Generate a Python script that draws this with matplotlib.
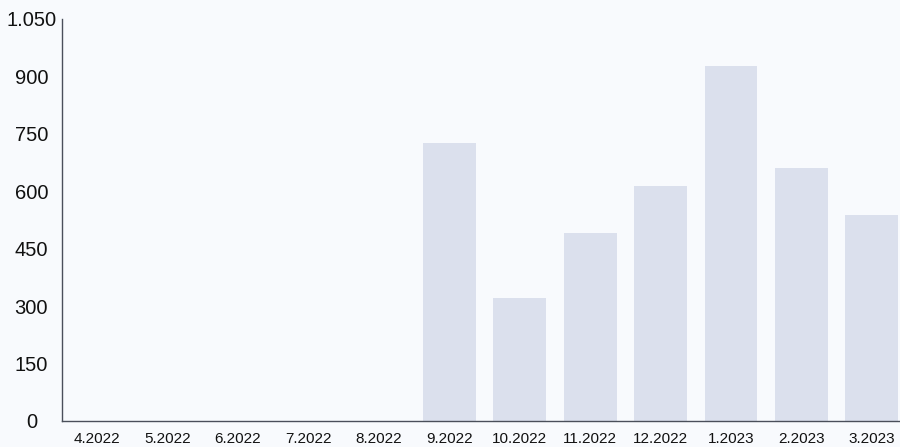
import matplotlib
matplotlib.use("Agg")
from matplotlib import pyplot as plt
from matplotlib.ticker import FuncFormatter
import numpy as np

plt.rcParams['font.family'] = ['Liberation Sans', 'DejaVu Sans']

# monthly values
months = ['4.2022', '5.2022', '6.2022', '7.2022', '8.2022', '9.2022',
          '10.2022', '11.2022', '12.2022', '1.2023', '2.2023', '3.2023']
values = [0, 0, 0, 0, 0, 725, 320, 490, 615, 928, 660, 538]
y_ticks = [0, 150, 300, 450, 600, 750, 900, 1050]

bar_color = '#dbe0ed'
bg_color = '#f8fafd'

fig = plt.figure(figsize=(9, 4.47), dpi=100, facecolor=bg_color)
ax = fig.add_axes([62 / 900, 1 - 421 / 447, 1 - 62 / 900, 402 / 447])
ax.set_facecolor(bg_color)

x = np.arange(len(months))
ax.bar(x, values, width=0.75, color=bar_color, zorder=2)

ax.set_xlim(-0.5, 11.4)
ax.set_ylim(0, 1050)
ax.set_xticks(x)
ax.set_xticklabels(months, fontsize=11, color='#111111')
ax.set_yticks(y_ticks)
ax.yaxis.set_major_formatter(FuncFormatter(lambda v, p: f"{int(v):,}".replace(',', '.')))
for lbl in ax.get_yticklabels():
    lbl.set_fontsize(14.5)
    lbl.set_color('#111111')
    lbl.set_horizontalalignment('center')

ax.tick_params(axis='y', length=0, pad=22)
ax.tick_params(axis='x', length=0, pad=8)

for side in ['top', 'right']:
    ax.spines[side].set_visible(False)
for side in ['left', 'bottom']:
    ax.spines[side].set_color('#4a4f5a')
    ax.spines[side].set_linewidth(1.0)

fig.savefig('out.png', dpi=100, facecolor=bg_color)
